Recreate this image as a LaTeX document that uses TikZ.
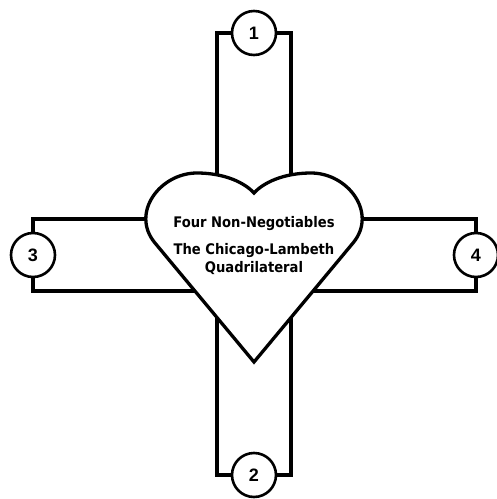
\documentclass[tikz,border=0pt]{standalone}
\usepackage{fontspec}
\setmainfont{Liberation Sans}
\newfontfamily\hfont{DejaVu Sans Condensed}
\begin{document}
\begin{tikzpicture}[x=1pt,y=-1pt,
  bar/.style={line width=3.3pt,line join=miter},
  num/.style={circle,draw,line width=2.6pt,fill=white,minimum size=44pt,inner sep=0pt,font=\fontsize{18}{18}\selectfont\bfseries},
  heartline/.style={line width=3.3pt,fill=white,line join=miter},
  htext/.style={font=\hfont\fontsize{14.6}{16}\selectfont\bfseries,inner sep=0pt,anchor=base}]
\useasboundingbox (0,0) rectangle (497,499);
% circle centres
\coordinate (p1) at (254,33);
\coordinate (p2) at (254,475);
\coordinate (p3) at (33,255);
\coordinate (p4) at (476,255);
% bar corners
\coordinate (v1) at (217,33);
\coordinate (v2) at (291,33);
\coordinate (v3) at (217,475);
\coordinate (v4) at (291,475);
\coordinate (h1) at (33,219);
\coordinate (h2) at (476,219);
\coordinate (h3) at (33,291);
\coordinate (h4) at (476,291);
% bars
\draw[bar] (p1) -- (v1) -- (v3) -- (p2);
\draw[bar] (p1) -- (v2) -- (v4) -- (p2);
\draw[bar] (p3) -- (h1) -- (h2) -- (p4);
\draw[bar] (p3) -- (h3) -- (h4) -- (p4);
% circles
\node[num] (c1) at (p1) {1};
\node[num] (c2) at (p2) {2};
\node[num] (c3) at (p3) {3};
\node[num] (c4) at (p4) {4};
% heart
\draw[heartline] (254,362) -- (155,243)
  .. controls (130,213) and (160,173) .. (197,173)
  .. controls (225,173) and (245,183) .. (254,193)
  .. controls (263,183) and (283,173) .. (311,173)
  .. controls (348,173) and (378,213) .. (353,243)
  -- cycle;
\node[htext] (t1) at (254,227) {Four Non-Negotiables};
\node[htext] (t2) at (254,254) {The Chicago-Lambeth};
\node[htext] (t3) at (254,272) {Quadrilateral};
\end{tikzpicture}
\end{document}
